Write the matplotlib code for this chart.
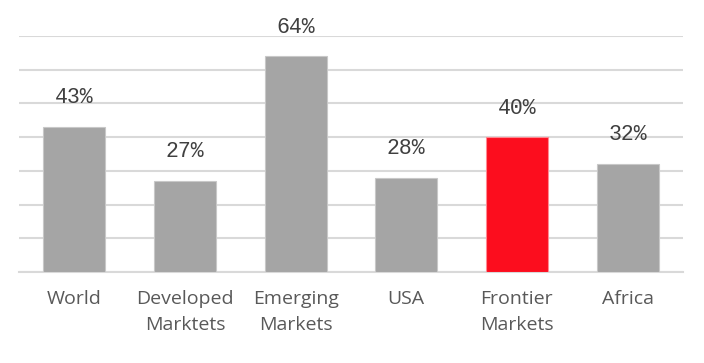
import matplotlib.pyplot as plt
import numpy as np

# Data
categories = ['World', 'Developed\nMarktets', 'Emerging\nMarkets', 'USA',
              'Frontier\nMarkets', 'Africa']
values = [43, 27, 64, 28, 40, 32]
highlight = 'Frontier\nMarkets'

GREY = '#A5A5A5'
RED = '#FC0D1E'
GRID = '#D9D9D9'

plt.rcParams['font.family'] = 'Open Sans'

fig = plt.figure(figsize=(7.04, 3.63), dpi=100)
ax = fig.add_axes([0.027, 0.2507, 0.943, 0.650])

x = np.arange(len(categories))
colors = [RED if c == highlight else GREY for c in categories]
edges = ['#FF8A92' if c == highlight else '#C8C8C8' for c in categories]
bars = ax.bar(x, values, width=0.56, color=colors, edgecolor=edges,
              linewidth=0.8, zorder=3)

# Percent labels above each bar
for xi, v in zip(x, values):
    ax.annotate(f'{v}%', (xi, v), xytext=(0, 21), textcoords='offset points',
                ha='center', va='center', fontsize=15.5, color='#404040',
                family='Liberation Mono', annotation_clip=False)

ax.set_xlim(-0.5, len(categories) - 0.5)
ax.set_ylim(0, 70)
ax.set_yticks(np.arange(0, 71, 10))
ax.yaxis.grid(True, color=GRID, linewidth=1.5, zorder=0)
ax.tick_params(axis='y', left=False, labelleft=False)
ax.tick_params(axis='x', length=0, pad=13)
ax.set_xticks(x)
ax.set_xticklabels(categories, fontsize=14, color='#595959',
                   linespacing=1.6, va='top')

for side in ['top', 'right', 'left']:
    ax.spines[side].set_visible(False)
ax.spines['bottom'].set_color(GRID)
ax.spines['bottom'].set_linewidth(1.5)

fig.savefig('out.png', dpi=100, facecolor='white')
